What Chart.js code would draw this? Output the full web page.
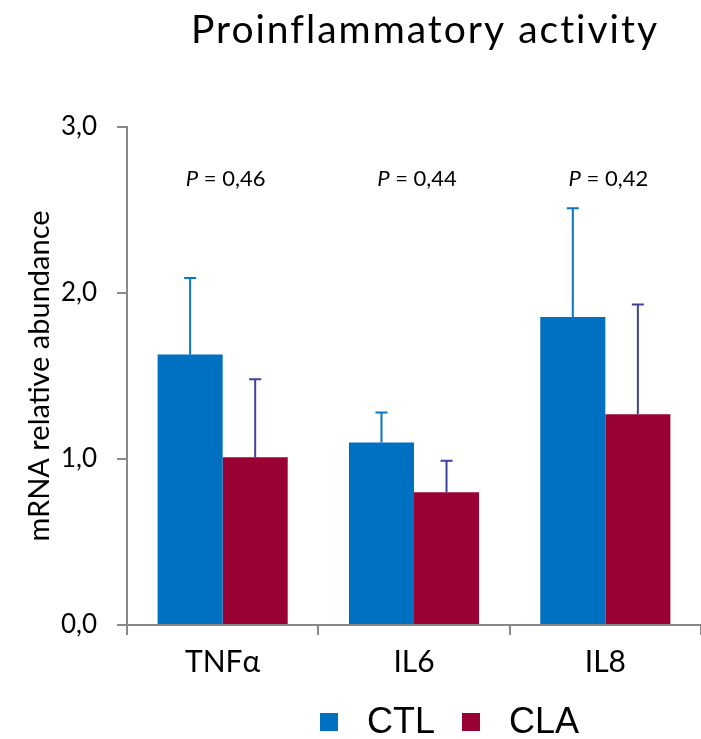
<!DOCTYPE html>
<html>
<head>
<meta charset="utf-8">
<script src="https://cdn.jsdelivr.net/npm/chart.js@4"></script>
<style>
  body { margin: 0; background: #fff; }
  canvas { display: block; }
</style>
</head>
<body>
<canvas id="chart" width="701" height="739"></canvas>
<script>
const categories = ["TNFα", "IL6", "IL8"];
const ctlMeans = [1.63, 1.10, 1.855];
const claMeans = [1.01, 0.80, 1.27];
const ctlErrors = [0.46, 0.18, 0.655];
const claErrors = [0.47, 0.19, 0.66];
const pValues = ["0,46", "0,44", "0,42"];
const yTicks = [0, 1, 2, 3];

const gill = "Lato, 'Open Sans', sans-serif";
const axisGrey = "#888888";

// error bars on top of each bar (upper only)
const errorBars = {
  id: "errorBars",
  afterDatasetsDraw(chart) {
    const ctx = chart.ctx;
    const y = chart.scales.y;
    chart.data.datasets.forEach((ds, di) => {
      const meta = chart.getDatasetMeta(di);
      meta.data.forEach((bar, i) => {
        const top = y.getPixelForValue(ds.data[i] + ds.errors[i]);
        ctx.save();
        ctx.strokeStyle = ds.errorColor;
        ctx.lineWidth = 2;
        ctx.beginPath();
        ctx.moveTo(bar.x, bar.y);
        ctx.lineTo(bar.x, top);
        ctx.moveTo(bar.x - 6, top);
        ctx.lineTo(bar.x + 6, top);
        ctx.stroke();
        ctx.restore();
      });
    });
  },
};

// title, P values and legend
const extras = {
  id: "extras",
  afterDraw(chart) {
    const ctx = chart.ctx;
    const x = chart.scales.x;
    const y = chart.scales.y;
    ctx.save();

    ctx.fillStyle = "#000";
    ctx.font = "39px " + gill;
    ctx.letterSpacing = "2px";
    ctx.textAlign = "center";
    ctx.textBaseline = "alphabetic";
    ctx.fillText("Proinflammatory activity", 425, 43);
    ctx.letterSpacing = "0px";

    const pY = y.getPixelForValue(2.69);
    pValues.forEach((p, i) => {
      const cx = x.getPixelForValue(i) + 3;
      ctx.font = "italic 22px " + gill;
      const wP = ctx.measureText("P").width;
      ctx.font = "22px " + gill;
      const rest = " = " + p;
      const wR = ctx.measureText(rest).width;
      const left = cx - (wP + wR) / 2;
      ctx.textAlign = "left";
      ctx.textBaseline = "middle";
      ctx.font = "italic 22px " + gill;
      ctx.fillText("P", left, pY);
      ctx.font = "22px " + gill;
      ctx.fillText(rest, left + wP, pY);
    });

    // legend
    ctx.font = "36px 'Liberation Sans', Arial, sans-serif";
    ctx.textBaseline = "middle";
    ctx.textAlign = "left";
    let lx = 320;
    const ly = 722;
    chart.data.datasets.forEach((ds) => {
      ctx.fillStyle = ds.backgroundColor;
      ctx.fillRect(lx, ly - 9, 18, 18);
      ctx.fillStyle = "#000";
      ctx.fillText(ds.label, lx + 47, ly + 1);
      lx += 47 + ctx.measureText(ds.label).width + 27;
    });
    ctx.restore();
  },
};

new Chart(document.getElementById("chart"), {
  type: "bar",
  data: {
    labels: categories,
    datasets: [
      {
        label: "CTL",
        data: ctlMeans,
        errors: ctlErrors,
        backgroundColor: "#0070C0",
        errorColor: "#0A74C6",
      },
      {
        label: "CLA",
        data: claMeans,
        errors: claErrors,
        backgroundColor: "#990033",
        errorColor: "#4040A0",
      },
    ],
  },
  options: {
    responsive: false,
    animation: false,
    devicePixelRatio: 1,
    layout: { padding: { top: 127, left: 0, right: 0, bottom: 0 } },
    datasets: {
      bar: { categoryPercentage: 0.68, barPercentage: 1.0 },
    },
    plugins: {
      legend: { display: false },
      title: { display: false },
      tooltip: { enabled: false },
    },
    scales: {
      x: {
        grid: {
          drawOnChartArea: false,
          drawTicks: true,
          tickLength: 10,
          color: axisGrey,
          lineWidth: 2,
        },
        border: { color: axisGrey, width: 2 },
        ticks: {
          color: "#000",
          font: { family: gill, size: 30 },
          padding: 9,
        },
        afterFit(scale) {
          scale.height = 114;
        },
      },
      y: {
        min: 0,
        max: 3,
        afterBuildTicks(scale) {
          scale.ticks = yTicks.map((v) => ({ value: v }));
        },
        grid: {
          drawOnChartArea: false,
          drawTicks: true,
          tickLength: 10,
          color: axisGrey,
          lineWidth: 2,
        },
        border: { color: axisGrey, width: 2 },
        ticks: {
          color: "#000",
          font: { family: gill, size: 26 },
          padding: 20,
          callback: (v) => v.toFixed(1).replace(".", ","),
        },
        title: {
          display: true,
          text: "mRNA relative abundance",
          color: "#000",
          font: { family: gill, size: 29 },
          padding: { top: 22, bottom: 0 },
        },
        afterFit(scale) {
          scale.width = 127;
        },
      },
    },
  },
  plugins: [errorBars, extras],
});
</script>
</body>
</html>
